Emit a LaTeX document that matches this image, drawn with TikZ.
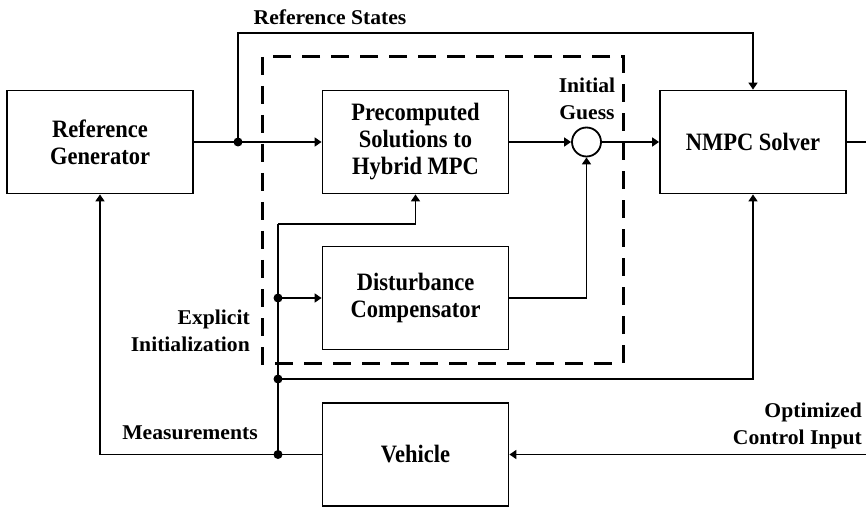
\documentclass[tikz,border=0pt]{standalone}
\usepackage{fontspec}
\setmainfont{Liberation Serif}
\newfontfamily\boxfont[FakeStretch=0.9]{Liberation Serif}
\newfontfamily\lblfont[FakeStretch=1.03]{Liberation Serif}
\usetikzlibrary{arrows.meta}
\begin{document}
\begin{tikzpicture}[x=1pt,y=-1pt,
  blk/.style={draw, line width=1.8pt, minimum width=186pt, minimum height=103pt, align=center, inner sep=0pt,
    font=\boxfont\fontsize{25}{27}\selectfont\bfseries},
  lbl/.style={align=center, inner sep=0pt, font=\lblfont\fontsize{21}{27}\selectfont\bfseries},
  con/.style={line width=1.6pt},
  arr/.style={con, -{Triangle[length=7pt,width=9pt]}},
  dot/.style={circle, fill, inner sep=0pt, minimum size=9pt},
  dashedbox/.style={line width=3pt, dash pattern=on 18pt off 11pt}
]
\useasboundingbox (0,0) rectangle (866,510);
% boxes
\node[blk] (rg) at (100,142) {Reference\\Generator};
\node[blk] (pre) at (415.5,142) {Precomputed\\Solutions to\\Hybrid MPC};
\node[blk] (nmpc) at (753,142) {NMPC Solver};
\node[blk] (dist) at (415.5,298) {Disturbance\\Compensator};
\node[blk] (veh) at (415.5,454.5) {Vehicle};
\node[draw, circle, line width=1.8pt, minimum size=29pt, inner sep=0pt] (sum) at (586.5,142) {};
% dashed region
\draw[dashedbox] (262,57) rectangle (623,363);
% labels
\node[lbl] (lrs) at (330,17) {Reference States};
\node[lbl] (lig) at (587,99) {Initial\\Guess};
\node[lbl, align=right, anchor=east] (lei) at (250,331) {Explicit\\Initialization};
\node[lbl] (lme) at (190,433) {Measurements};
\node[lbl, align=right, anchor=east] (loc) at (862,426) {Optimized\\Control Input};
% coordinates
\coordinate (j1) at (238,142);
\coordinate (rs) at (238,33);
\coordinate (b1) at (278,224);
\coordinate (b2) at (278,298);
\coordinate (b3) at (278,379);
\coordinate (b4) at (278,454.5);
\coordinate (out) at (866,142);
\coordinate (in) at (866,454.5);
% connectors
\draw[arr] (rg.east) -- (pre.west);
\draw[arr] (j1) -- (rs) -| (nmpc.north);
\draw[arr] (pre.east) -- (sum.west);
\draw[arr] (sum.east) -- (nmpc.west);
\draw[arr] (dist.east) -| (sum.south);
\draw[con] (veh.west) -- (b4);
\draw[arr] (b4) -| (rg.south);
\draw[con] (b4) -- (b1);
\draw[arr] (b1) -| (pre.south);
\draw[arr] (b2) -- (dist.west);
\draw[arr] (b3) -| (nmpc.south);
\draw[con] (nmpc.east) -- (out);
\draw[arr] (in) -- (veh.east);
% dots
\node[dot] (d1) at (j1) {};
\node[dot] (d2) at (b2) {};
\node[dot] (d3) at (b3) {};
\node[dot] (d4) at (b4) {};
\end{tikzpicture}
\end{document}
